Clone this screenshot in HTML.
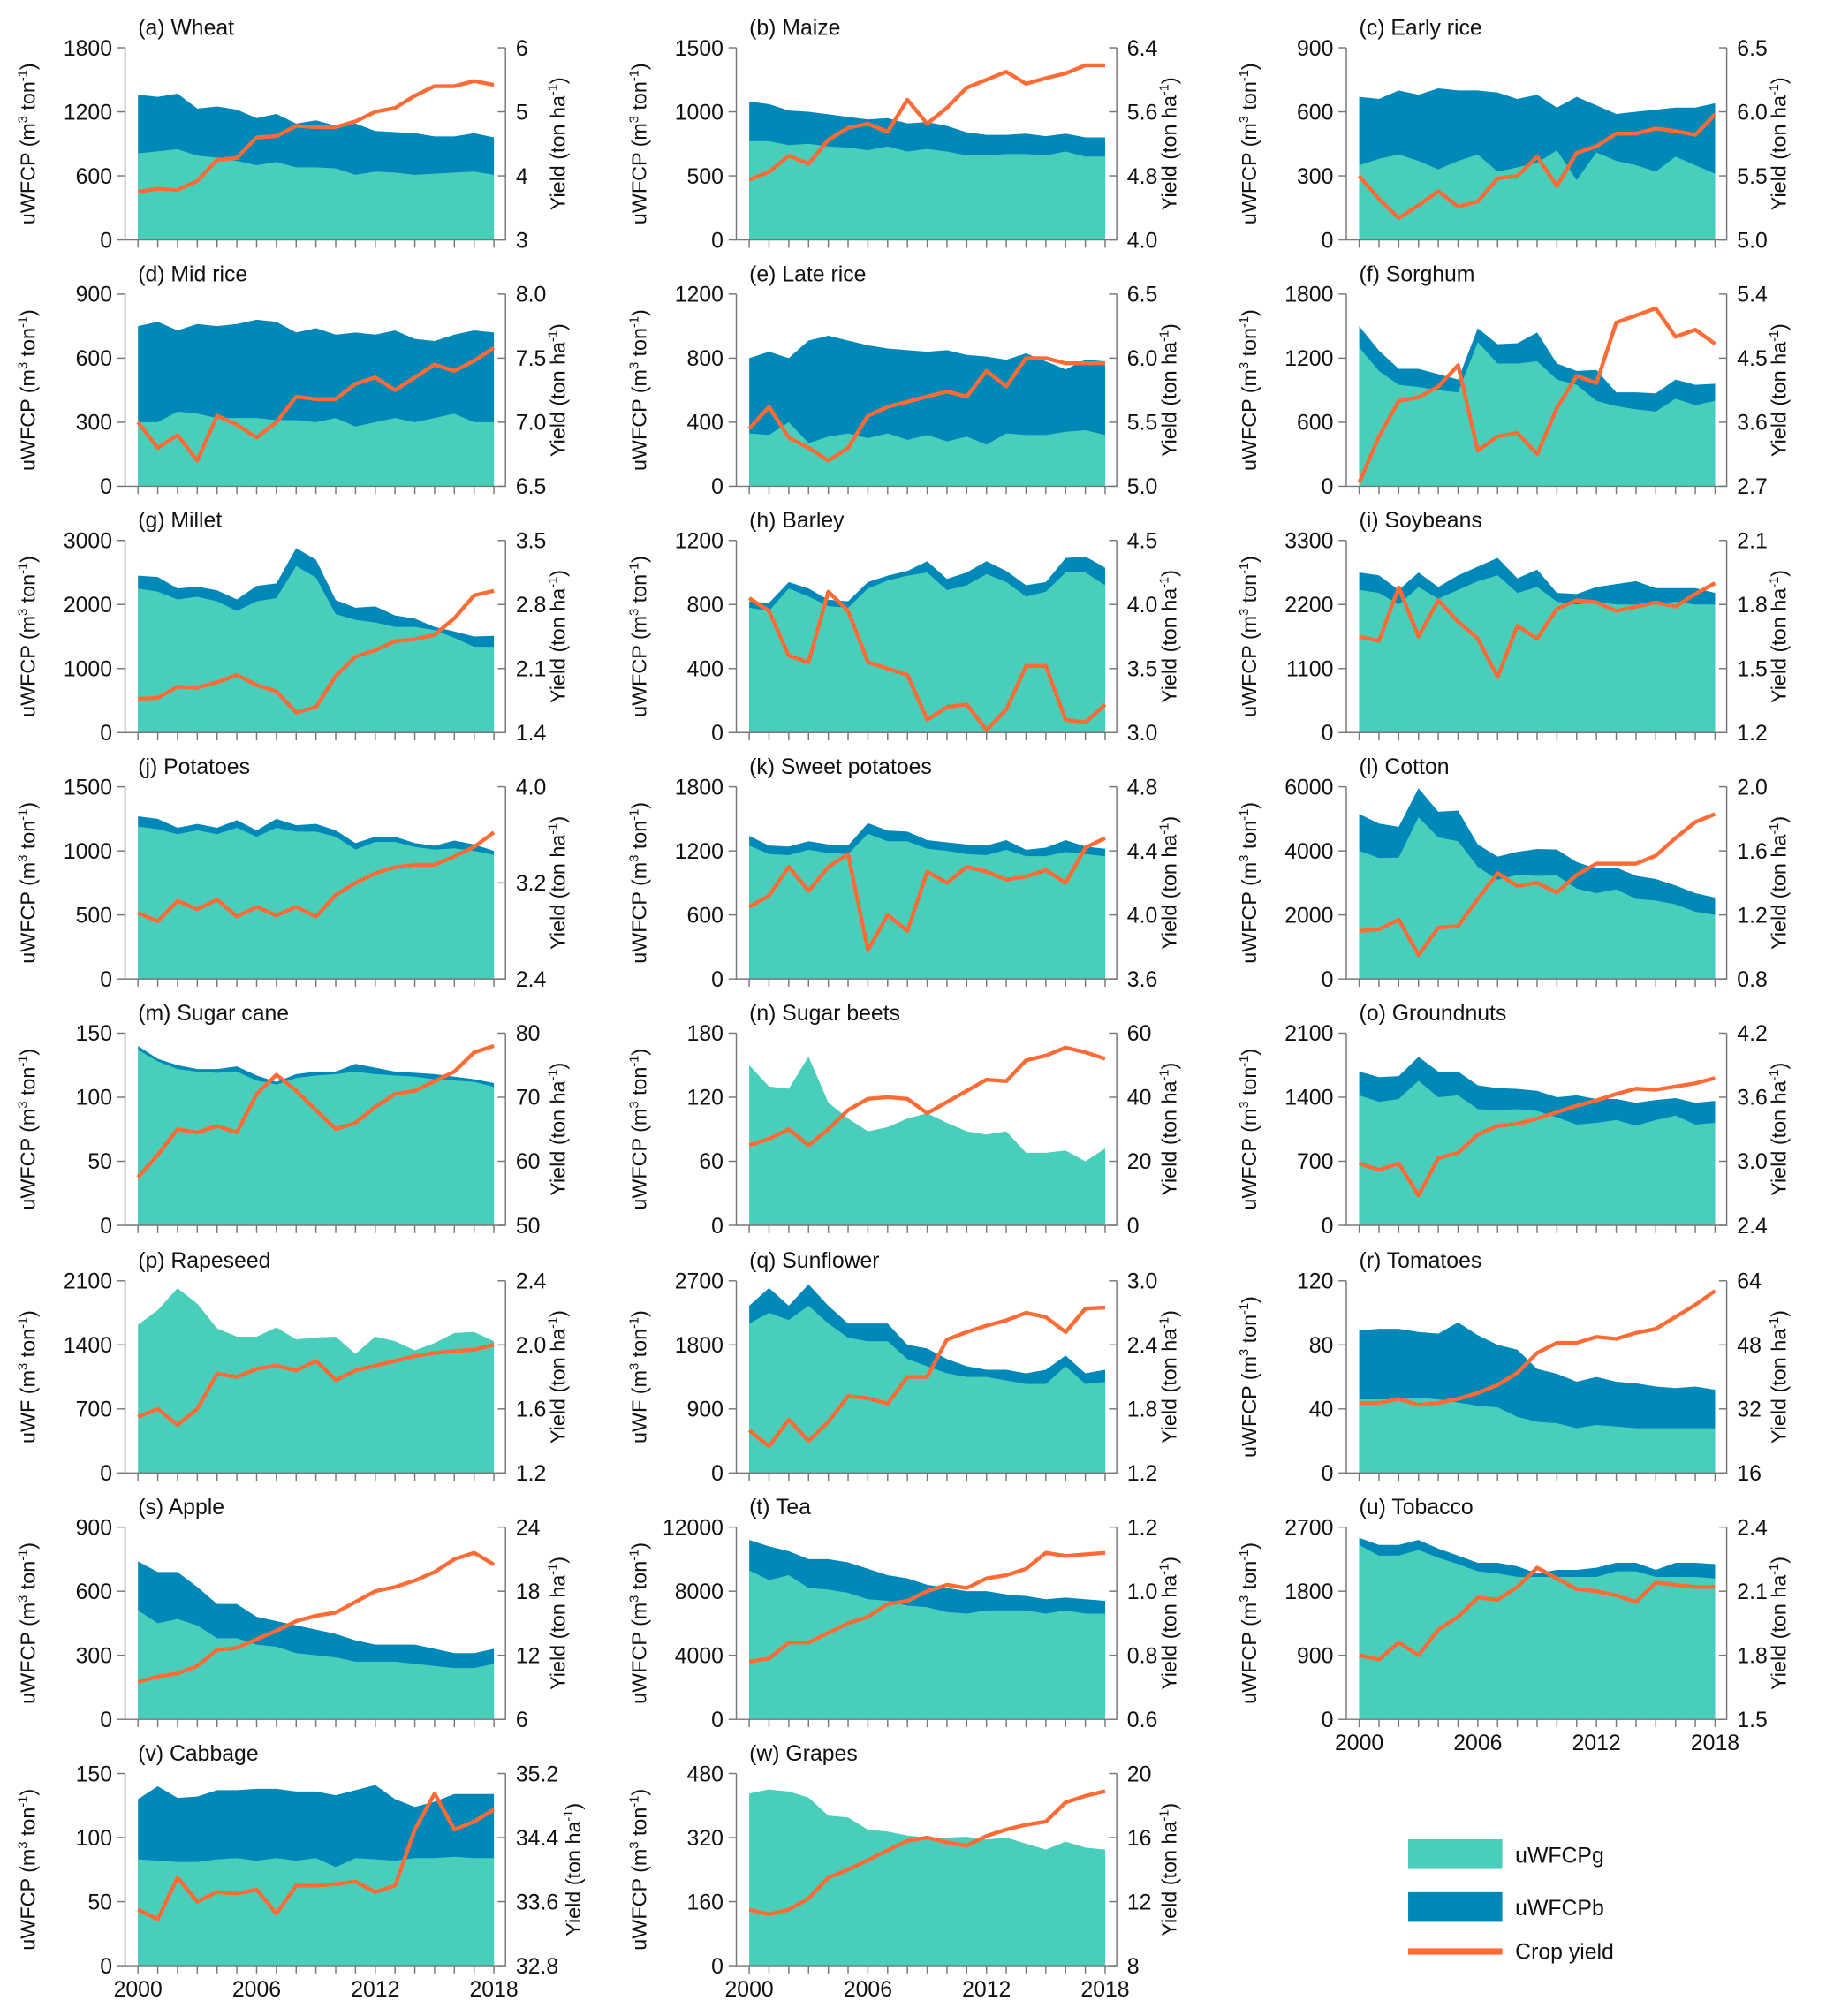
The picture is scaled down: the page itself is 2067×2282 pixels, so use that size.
<!DOCTYPE html>
<html><head><meta charset="utf-8"><style>
html,body{margin:0;padding:0;background:#fff}
svg{display:block}
text{font-family:"Liberation Sans Narrow","Liberation Sans",sans-serif;fill:#111}
</style></head><body>
<svg id="fig" width="2067" height="2282" viewBox="0 0 1416 1563" preserveAspectRatio="none" xmlns="http://www.w3.org/2000/svg"></svg>
<script>
const years = [2000,2001,2002,2003,2004,2005,2006,2007,2008,2009,2010,2011,2012,2013,2014,2015,2016,2017,2018];
const titles = ["(a) Wheat","(b) Maize","(c) Early rice","(d) Mid rice","(e) Late rice","(f) Sorghum","(g) Millet","(h) Barley","(i) Soybeans","(j) Potatoes","(k) Sweet potatoes","(l) Cotton","(m) Sugar cane","(n) Sugar beets","(o) Groundnuts","(p) Rapeseed","(q) Sunflower","(r) Tomatoes","(s) Apple","(t) Tea","(u) Tobacco","(v) Cabbage","(w) Grapes"];
const leftTicks = [[0,600,1200,1800],[0,500,1000,1500],[0,300,600,900],[0,300,600,900],[0,400,800,1200],[0,600,1200,1800],[0,1000,2000,3000],[0,400,800,1200],[0,1100,2200,3300],[0,500,1000,1500],[0,600,1200,1800],[0,2000,4000,6000],[0,50,100,150],[0,60,120,180],[0,700,1400,2100],[0,700,1400,2100],[0,900,1800,2700],[0,40,80,120],[0,300,600,900],[0,4000,8000,12000],[0,900,1800,2700],[0,50,100,150],[0,160,320,480]];
const rightTicks = [["3","4","5","6"],["4.0","4.8","5.6","6.4"],["5.0","5.5","6.0","6.5"],["6.5","7.0","7.5","8.0"],["5.0","5.5","6.0","6.5"],["2.7","3.6","4.5","5.4"],["1.4","2.1","2.8","3.5"],["3.0","3.5","4.0","4.5"],["1.2","1.5","1.8","2.1"],["2.4","3.2","4.0"],["3.6","4.0","4.4","4.8"],["0.8","1.2","1.6","2.0"],["50","60","70","80"],["0","20","40","60"],["2.4","3.0","3.6","4.2"],["1.2","1.6","2.0","2.4"],["1.2","1.8","2.4","3.0"],["16","32","48","64"],["6","12","18","24"],["0.6","0.8","1.0","1.2"],["1.5","1.8","2.1","2.4"],["32.8","33.6","34.4","35.2"],["8","12","16","20"]];
const leftLabels = ["uWFCP","uWFCP","uWFCP","uWFCP","uWFCP","uWFCP","uWFCP","uWFCP","uWFCP","uWFCP","uWFCP","uWFCP","uWFCP","uWFCP","uWFCP","uWF","uWF","uWFCP","uWFCP","uWFCP","uWFCP","uWFCP","uWFCP"];
const greenVals = [
[810,830,850,790,770,740,700,730,680,680,670,610,640,630,610,620,630,640,610],
[770,770,740,750,730,720,700,730,690,710,690,660,660,670,670,660,690,650,650],
[350,380,400,370,330,370,400,320,340,360,420,280,410,370,350,320,390,350,310],
[300,300,350,340,320,320,320,310,310,300,320,280,300,320,300,320,340,300,300],
[330,320,400,270,310,330,300,330,290,320,280,310,260,330,320,320,340,350,320],
[1300,1080,950,930,900,880,1350,1150,1150,1170,1000,950,800,750,720,700,820,760,800],
[2250,2200,2080,2120,2050,1900,2050,2100,2600,2420,1850,1760,1720,1650,1650,1600,1480,1340,1340],
[780,760,900,850,790,780,900,950,980,1000,890,920,990,940,850,880,1000,1000,920],
[2450,2400,2200,2500,2300,2450,2600,2700,2400,2500,2250,2200,2250,2200,2200,2200,2250,2200,2200],
[1190,1170,1130,1160,1130,1180,1110,1180,1150,1150,1110,1010,1070,1070,1030,1010,1020,1000,970],
[1250,1170,1160,1210,1180,1170,1360,1290,1290,1220,1200,1170,1160,1210,1150,1150,1190,1170,1150],
[4000,3780,3790,5050,4420,4300,3500,3100,3250,3220,3230,2820,2680,2800,2500,2450,2330,2100,2000],
[137,128,122,120,119,120,113,110,115,117,118,120,118,117,116,114,113,112,108],
[150,130,128,158,115,100,88,92,100,105,96,88,85,88,68,68,70,60,72],
[1420,1350,1380,1580,1400,1420,1270,1260,1270,1250,1180,1100,1120,1150,1090,1150,1200,1100,1120],
[1620,1780,2020,1850,1580,1490,1490,1590,1460,1480,1490,1300,1490,1440,1340,1420,1530,1540,1440],
[2100,2250,2150,2350,2100,1900,1850,1850,1600,1500,1400,1350,1350,1300,1250,1250,1500,1250,1280],
[46,46,46,47,46,44,42,41,35,32,31,28,30,29,28,28,28,28,28],
[510,450,470,440,380,380,350,340,310,300,290,270,270,270,260,250,240,240,260],
[9300,8700,9000,8200,8100,7900,7500,7400,7100,7000,6700,6600,6800,6800,6800,6600,6800,6600,6600],
[2450,2300,2300,2380,2270,2180,2080,2050,2000,2000,2000,2000,2000,2080,2080,2000,2000,2000,1980],
[83,82,81,81,83,84,82,84,82,84,77,84,83,82,84,84,85,84,84],
[430,440,435,420,375,370,340,335,325,320,320,322,315,320,305,290,310,295,290]];
const totalVals = [
[1360,1340,1370,1230,1250,1220,1140,1180,1090,1120,1070,1090,1020,1010,1000,970,970,1000,960],
[1080,1060,1010,1000,980,960,940,950,910,920,890,840,820,820,830,810,830,800,800],
[670,660,700,680,710,700,700,690,660,680,620,670,630,590,600,610,620,620,640],
[750,770,730,760,750,760,780,770,720,740,710,720,710,730,690,680,710,730,720],
[800,840,800,910,940,910,880,860,850,840,850,820,810,790,830,780,730,790,780],
[1500,1270,1100,1100,1050,1000,1480,1330,1340,1440,1150,1080,1090,880,880,870,1000,950,960],
[2450,2430,2250,2280,2220,2080,2290,2330,2880,2700,2070,1950,1970,1830,1780,1650,1580,1500,1510],
[820,810,940,900,830,820,940,980,1010,1070,960,1000,1070,1010,920,940,1090,1100,1030],
[2750,2700,2450,2750,2500,2700,2850,3000,2650,2800,2400,2380,2500,2550,2600,2480,2480,2480,2400],
[1270,1250,1180,1210,1180,1240,1160,1250,1200,1210,1160,1060,1110,1110,1060,1040,1080,1050,1000],
[1340,1250,1240,1290,1260,1250,1460,1390,1380,1300,1280,1260,1250,1300,1210,1230,1300,1240,1220],
[5150,4850,4750,5950,5220,5260,4200,3820,3970,4060,4040,3650,3450,3480,3220,3120,2920,2680,2540],
[140,130,125,122,122,124,117,112,118,120,120,126,123,120,119,118,116,114,111],
null,
[1680,1620,1630,1840,1680,1680,1530,1500,1490,1470,1400,1420,1380,1380,1340,1370,1390,1340,1360],
null,
[2350,2600,2350,2650,2350,2100,2100,2100,1800,1750,1600,1500,1450,1450,1400,1450,1650,1400,1450],
[89,90,90,88,87,94,86,80,77,65,62,57,60,57,56,54,53,54,52],
[740,690,690,620,540,540,480,460,440,420,400,370,350,350,350,330,310,310,330],
[11200,10800,10500,10000,10000,9800,9400,9000,8800,8400,8200,8000,8000,7800,7700,7500,7600,7500,7400],
[2550,2450,2450,2520,2400,2300,2200,2200,2150,2050,2100,2100,2130,2200,2200,2100,2200,2200,2180],
[130,140,131,132,137,137,138,138,136,136,133,137,141,130,124,128,134,134,134],
null];
const yieldVals = [
[3.75,3.8,3.78,3.92,4.25,4.28,4.6,4.62,4.78,4.76,4.76,4.85,5.0,5.06,5.25,5.4,5.4,5.48,5.42],
[4.75,4.85,5.05,4.95,5.25,5.4,5.45,5.35,5.75,5.45,5.65,5.9,6.0,6.1,5.95,6.02,6.08,6.18,6.18],
[5.5,5.32,5.17,5.27,5.38,5.26,5.3,5.48,5.5,5.65,5.42,5.68,5.73,5.83,5.83,5.87,5.85,5.82,5.98],
[7.0,6.8,6.9,6.7,7.05,6.98,6.88,7.0,7.2,7.18,7.18,7.3,7.35,7.25,7.35,7.45,7.4,7.48,7.58],
[5.45,5.62,5.38,5.3,5.2,5.3,5.55,5.62,5.66,5.7,5.74,5.7,5.9,5.78,6.0,6.0,5.96,5.96,5.96],
[2.75,3.4,3.9,3.95,4.1,4.4,3.2,3.4,3.45,3.15,3.8,4.25,4.15,5.0,5.1,5.2,4.8,4.9,4.7],
[1.77,1.78,1.9,1.89,1.95,2.03,1.92,1.85,1.62,1.68,2.02,2.23,2.3,2.4,2.42,2.47,2.65,2.9,2.95],
[4.05,3.95,3.6,3.55,4.1,3.95,3.55,3.5,3.45,3.1,3.2,3.22,3.02,3.18,3.52,3.52,3.1,3.08,3.22],
[1.65,1.63,1.88,1.65,1.82,1.72,1.64,1.46,1.7,1.64,1.78,1.82,1.81,1.77,1.79,1.81,1.79,1.85,1.9],
[2.95,2.88,3.05,2.98,3.06,2.92,3.0,2.93,3.0,2.92,3.1,3.2,3.28,3.33,3.35,3.35,3.42,3.5,3.62],
[4.05,4.12,4.3,4.15,4.3,4.38,3.78,4.0,3.9,4.27,4.2,4.3,4.27,4.22,4.24,4.28,4.2,4.42,4.48],
[1.1,1.11,1.17,0.95,1.12,1.13,1.3,1.46,1.38,1.4,1.34,1.45,1.52,1.52,1.52,1.57,1.68,1.78,1.83],
[57.5,61,65,64.5,65.5,64.5,70.5,73.5,71,68,65,66,68.5,70.5,71,72.5,74,77,78],
[25,27,30,25,30,36,39.5,40,39.5,35,38.5,42,45.5,45,51.5,53,55.5,54,52],
[2.98,2.92,2.98,2.68,3.03,3.08,3.25,3.33,3.35,3.4,3.46,3.52,3.57,3.63,3.68,3.67,3.7,3.73,3.78],
[1.55,1.6,1.5,1.6,1.82,1.8,1.85,1.87,1.84,1.9,1.78,1.84,1.87,1.9,1.93,1.95,1.96,1.97,2.0],
[1.6,1.45,1.7,1.5,1.68,1.92,1.9,1.85,2.1,2.1,2.45,2.52,2.58,2.63,2.7,2.66,2.52,2.74,2.75],
[33.5,33.5,34.5,33,33.5,34.5,36,38,41,46,48.5,48.5,50,49.5,51,52,55,58,61.5],
[9.5,10,10.3,11,12.5,12.7,13.5,14.3,15.2,15.7,16,17,18,18.4,19,19.8,21,21.6,20.5],
[0.78,0.79,0.84,0.84,0.87,0.9,0.92,0.96,0.97,1.0,1.02,1.01,1.04,1.05,1.07,1.12,1.11,1.115,1.12],
[1.8,1.78,1.86,1.8,1.92,1.98,2.07,2.06,2.12,2.21,2.16,2.11,2.1,2.08,2.05,2.14,2.13,2.12,2.12],
[33.5,33.38,33.9,33.6,33.72,33.7,33.75,33.45,33.8,33.8,33.82,33.85,33.72,33.8,34.5,34.95,34.5,34.6,34.75],
[11.5,11.2,11.5,12.2,13.5,14,14.6,15.2,15.8,16,15.7,15.5,16.1,16.5,16.8,17,18.2,18.6,18.9]];
const xTickLabels = [2000,2006,2012,2018];

const NS = "http://www.w3.org/2000/svg";
const svg = document.getElementById('fig');
function mk(tag, attrs, parent){ const e=document.createElementNS(NS,tag); for(const k in attrs) e.setAttribute(k,attrs[k]); (parent||svg).appendChild(e); return e; }
const GREEN="#48CEBA", BLUE="#0088B8", ORANGE="#FF6B35", AX="#777";
const colX=[97,571,1044], frameW=295, dataOff=10, dataW=276, rowTop=[37,228,419,610,801,993,1184,1375], H=149;

titles.forEach((t,i)=>{
  const c=i%3, r=Math.floor(i/3);
  const L=colX[c], R=L+frameW, T=rowTop[r], B=T+H;
  const g=mk('g',{});
  
  
  const lt=leftTicks[i], lmax=lt[lt.length-1];
  const rt=rightTicks[i].map(Number);
  const rmin=rt[0], rmax=rt[rt.length-1];
  const xs=k=>L+dataOff+(years[k]-years[0])/(years[years.length-1]-years[0])*dataW;
  const yl=v=>B-v/lmax*H;
  const yr=v=>B-(v-rmin)/(rmax-rmin)*H;
  const gv=greenVals[i], tv=totalVals[i], yv=yieldVals[i];
  if(tv){
    let d='M'+xs(0)+','+B; tv.forEach((v,k)=>d+=' L'+xs(k)+','+yl(v)); d+=' L'+xs(tv.length-1)+','+B+' Z';
    const p=mk('path',{d:d,fill:BLUE},g);
    
    
  }
  let d2='M'+xs(0)+','+B; gv.forEach((v,k)=>d2+=' L'+xs(k)+','+yl(v)); d2+=' L'+xs(gv.length-1)+','+B+' Z';
  const pg=mk('path',{d:d2,fill:GREEN},g);
  
  
  const pts=yv.map((v,k)=>xs(k)+','+yr(v)).join(' ');
  const pl=mk('polyline',{points:pts,fill:'none',stroke:ORANGE,'stroke-width':3,'stroke-linejoin':'round'},g);
  
  
  mk('path',{d:`M${L},${T} V${B} H${R} V${T}`,fill:'none',stroke:AX,'stroke-width':1},g);
  lt.forEach(v=>{ const y=yl(v);
    mk('line',{x1:L-6,x2:L,y1:y,y2:y,stroke:AX},g);
    const tx=mk('text',{x:L-10,y:y+6,'text-anchor':'end','font-size':17},g); tx.textContent=v;
     
  });
  let maxLen=0;
  rightTicks[i].forEach(s=>{ const y=yr(Number(s)); maxLen=Math.max(maxLen,s.length);
    mk('line',{x1:R-6,x2:R,y1:y,y2:y,stroke:AX},g);
    const tx=mk('text',{x:R+8,y:y+6,'font-size':17},g); tx.textContent=s;
     
  });
  years.forEach((yy,k)=>mk('line',{x1:xs(k),x2:xs(k),y1:B,y2:B+6,stroke:AX},g));
  const tt=mk('text',{x:L+10,y:T-10,'font-size':17},g); tt.textContent=t;
   
  const yl1=mk('text',{transform:`translate(${L-70},${T+H/2}) rotate(-90)`,'text-anchor':'middle','font-size':16},g);
  yl1.innerHTML=leftLabels[i]+' (m<tspan font-size="10" dy="-6">3</tspan><tspan dy="6"> ton</tspan><tspan font-size="10" dy="-6">-1</tspan><tspan dy="6">)</tspan>';
   
  const off = maxLen>=4 ? 58 : 46;
  const yl2=mk('text',{transform:`translate(${R+off},${T+H/2}) rotate(-90)`,'text-anchor':'middle','font-size':16},g);
  yl2.innerHTML='Yield (ton ha<tspan font-size="10" dy="-6">-1</tspan><tspan dy="6">)</tspan>';
   
  if(r===7 || i===20){
    xTickLabels.forEach(yy=>{ const k=years.indexOf(yy);
      const tx=mk('text',{x:xs(k),y:B+24,'text-anchor':'middle','font-size':17},g); tx.textContent=yy;
       
    });
  }
});
const lg=mk('g',{});


mk('rect',{x:1092,y:1426,width:73,height:23,fill:GREEN},lg);
mk('rect',{x:1092,y:1467,width:73,height:23,fill:BLUE},lg);
mk('line',{x1:1092,x2:1165,y1:1513,y2:1513,stroke:ORANGE,'stroke-width':5},lg);
[["uWFCPg",1444],["uWFCPb",1485],["Crop yield",1519]].forEach(a=>{
  const t=mk('text',{x:1175,y:a[1],'font-size':17},lg); t.textContent=a[0];
   
});
</script>
</body></html>
